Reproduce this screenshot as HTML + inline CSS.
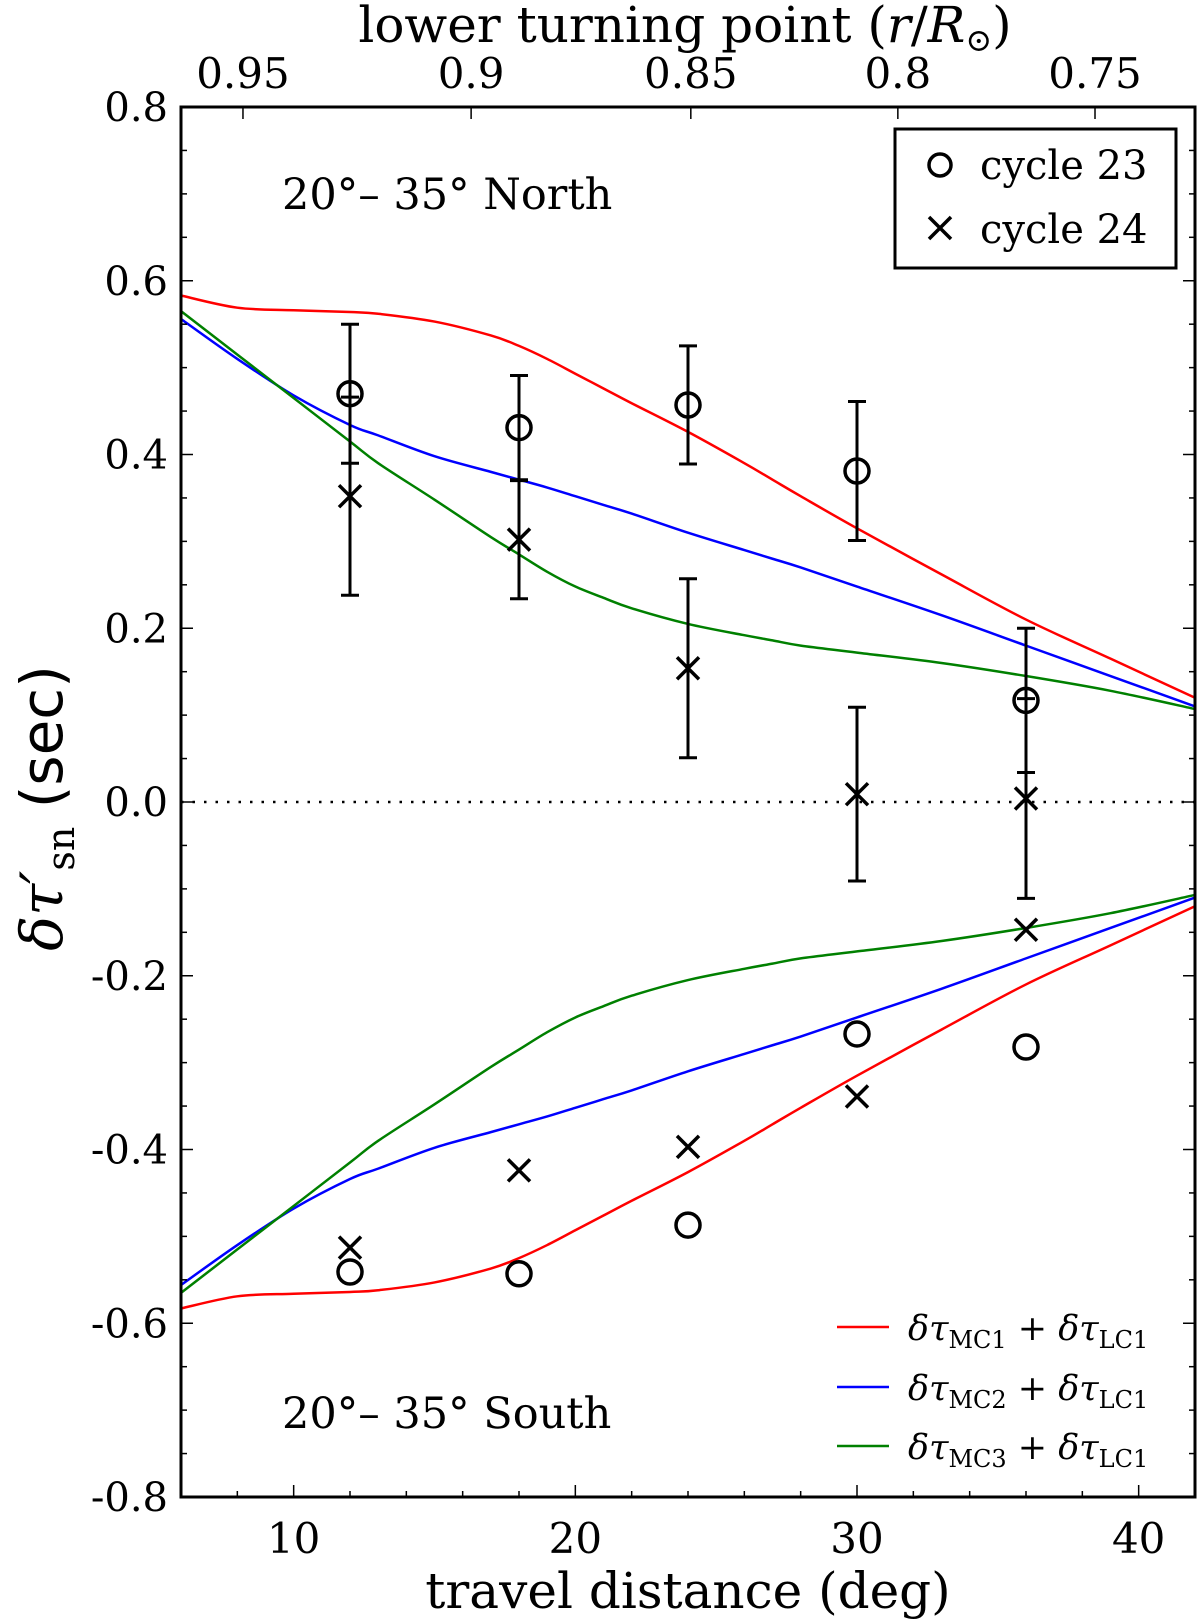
<!DOCTYPE html>
<html><head><meta charset="utf-8">
<style>
html,body{margin:0;padding:0;background:#fff;}
svg{display:block;font-family:"DejaVu Serif","Liberation Serif",serif;}
</style></head>
<body>
<svg id="chart" width="1200" height="1623" viewBox="0 0 1200 1623" xmlns="http://www.w3.org/2000/svg">
<g id="curves"></g>
<g id="axes"></g>
<g id="marks"></g>
<text x="282" y="1428" font-size="43">20°– 35° South</text>
<text x="282" y="209" font-size="43">20°– 35° North</text>
<g>
<rect x="895" y="129" width="281" height="139" fill="#fff" stroke="#000" stroke-width="3"/>
<circle cx="940" cy="165" r="11" fill="none" stroke="#000" stroke-width="3.5"/>
<text x="980" y="179" font-size="40">cycle 23</text>
<path d="M929 217 L951 239 M951 217 L929 239" stroke="#000" stroke-width="3.5"/>
<text x="980" y="243" font-size="40">cycle 24</text>
</g>
<g>
<line x1="837" y1="1327" x2="889" y2="1327" stroke="#f00" stroke-width="2.5"/>
<text x="908" y="1340" font-size="35" font-style="italic">δτ<tspan font-style="normal" font-size="24" dy="8">MC1</tspan><tspan dy="-8" font-style="normal"> + </tspan>δτ<tspan font-style="normal" font-size="24" dy="8">LC1</tspan></text>
<line x1="837" y1="1387" x2="889" y2="1387" stroke="#00f" stroke-width="2.5"/>
<text x="908" y="1400" font-size="35" font-style="italic">δτ<tspan font-style="normal" font-size="24" dy="8">MC2</tspan><tspan dy="-8" font-style="normal"> + </tspan>δτ<tspan font-style="normal" font-size="24" dy="8">LC1</tspan></text>
<line x1="837" y1="1446" x2="889" y2="1446" stroke="#008000" stroke-width="2.5"/>
<text x="908" y="1459" font-size="35" font-style="italic">δτ<tspan font-style="normal" font-size="24" dy="8">MC3</tspan><tspan dy="-8" font-style="normal"> + </tspan>δτ<tspan font-style="normal" font-size="24" dy="8">LC1</tspan></text>
</g>
<text x="685" y="42" font-size="50" text-anchor="middle">lower turning point (<tspan font-style="italic">r</tspan>/<tspan font-style="italic">R</tspan><tspan font-size="32" dy="9">⊙</tspan><tspan dy="-9">)</tspan></text>
<text x="688" y="1608" font-size="50" text-anchor="middle">travel distance (deg)</text>
<text transform="translate(62,808) rotate(-90)" font-size="58" text-anchor="middle"><tspan font-style="italic">δτ′</tspan><tspan font-size="38" dy="12">sn</tspan><tspan dy="-12" font-family="DejaVu Sans, sans-serif"> (sec)</tspan></text>
</svg>
<script>
const curveX = [6,8,10,12,13,15,17,18,19,20,21,22,24,26,27,28,30,33,36,39,42];
const mc1 = [0.583,0.569,0.566,0.564,0.562,0.553,0.537,0.525,0.51,0.493,0.476,0.459,0.426,0.39,0.371,0.352,0.315,0.262,0.21,0.165,0.12];
const mc2 = [0.556,0.51,0.468,0.434,0.422,0.398,0.38,0.371,0.362,0.352,0.342,0.332,0.31,0.29,0.28,0.27,0.248,0.215,0.18,0.145,0.11];
const mc3 = [0.565,0.515,0.465,0.415,0.39,0.348,0.305,0.285,0.265,0.248,0.235,0.223,0.205,0.192,0.186,0.18,0.172,0.16,0.145,0.128,0.107];
const obsX = [12,18,24,30,36];
const c23N = [0.470,0.431,0.457,0.381,0.117];
const c23Nerr = [0.08,0.06,0.068,0.08,0.083];
const c24N = [0.352,0.302,0.154,0.009,0.004];
const c24Nerr = [0.114,0.068,0.103,0.10,0.115];
const c23S = [-0.541,-0.543,-0.487,-0.267,-0.282];
const c24S = [-0.513,-0.424,-0.397,-0.339,-0.147];
const yTicks = [0.8,0.6,0.4,0.2,0.0,-0.2,-0.4,-0.6,-0.8];
const yTickLabels = ["0.8","0.6","0.4","0.2","0.0","-0.2","-0.4","-0.6","-0.8"];
const xTicks = [10,20,30,40];
const topTickPos = [0.95,0.9,0.85,0.8,0.75];
const topTickDeg = [8.2,16.3,24.1,31.45,38.45];

const L=181,R=1195,T=107,B=1497;
const xmin=6,xmax=42,ymin=-0.8,ymax=0.8;
const sx=v=>L+(v-xmin)/(xmax-xmin)*(R-L);
const sy=v=>B-(v-ymin)/(ymax-ymin)*(B-T);
const NS="http://www.w3.org/2000/svg";
function mk(tag,attrs,parent){const e=document.createElementNS(NS,tag);for(const k in attrs)e.setAttribute(k,attrs[k]);parent.appendChild(e);return e;}
const curves=document.getElementById('curves'),axes=document.getElementById('axes'),marks=document.getElementById('marks');

function smooth(pts){
  let d=`M${pts[0][0]},${pts[0][1]}`;
  for(let i=0;i<pts.length-1;i++){
    const p0=pts[Math.max(i-1,0)],p1=pts[i],p2=pts[i+1],p3=pts[Math.min(i+2,pts.length-1)];
    const c1x=p1[0]+(p2[0]-p0[0])/6,c1y=p1[1]+(p2[1]-p0[1])/6;
    const c2x=p2[0]-(p3[0]-p1[0])/6,c2y=p2[1]-(p3[1]-p1[1])/6;
    d+=` C${c1x},${c1y} ${c2x},${c2y} ${p2[0]},${p2[1]}`;
  }
  return d;
}
const series=[[mc1,'#f00','mc1'],[mc2,'#00f','mc2'],[mc3,'#008000','mc3']];
series.forEach(([arr,col,nm])=>{
  [1,-1].forEach(sg=>{
    const p=mk('path',{d:smooth(curveX.map((x,i)=>[sx(x),sy(sg*arr[i])])),fill:'none',stroke:col,'stroke-width':2.5},curves);
    
    
  });
});

const z=mk('line',{x1:L,x2:R,y1:sy(0),y2:sy(0),stroke:'#000','stroke-width':2.5,'stroke-dasharray':'2.5,9'},axes);


const fr=mk('rect',{x:L,y:T,width:R-L,height:B-T,fill:'none',stroke:'#000','stroke-width':3},axes);


for(let k=0;k<=32;k++){
  const v=-0.8+k*0.05, y=sy(v), maj=(k%4===0), len=maj?12:6;
  mk('line',{x1:L,x2:L+len,y1:y,y2:y,stroke:'#000','stroke-width':1.5},axes);
  mk('line',{x1:R,x2:R-len,y1:y,y2:y,stroke:'#000','stroke-width':1.5},axes);
}
yTicks.forEach((v,i)=>{
  const t=mk('text',{x:168,y:sy(v)+14,'font-size':40,'text-anchor':'end'},axes);
  t.textContent=yTickLabels[i];
  
  
});
for(let v=8;v<=42;v+=2){
  const x=sx(v),maj=(v%10===0),len=maj?12:6;
  mk('line',{x1:x,x2:x,y1:B,y2:B-len,stroke:'#000','stroke-width':1.5},axes);
}
xTicks.forEach(v=>{
  const t=mk('text',{x:sx(v),y:1553,'font-size':42,'text-anchor':'middle'},axes);
  t.textContent=String(v);
  
  
});
topTickDeg.forEach((d,i)=>{
  const x=sx(d);
  mk('line',{x1:x,x2:x,y1:T,y2:T+12,stroke:'#000','stroke-width':1.5},axes);
  const t=mk('text',{x:x,y:88,'font-size':42,'text-anchor':'middle'},axes);
  t.textContent=String(topTickPos[i]);
  
  
});

function errbar(x,v,e,nm){
  const X=sx(x),y1=sy(v+e),y2=sy(v-e);
  const g=mk('g',{stroke:'#000','stroke-width':3},marks);
  
  
  mk('line',{x1:X,x2:X,y1:y1,y2:y2},g);
  mk('line',{x1:X-9,x2:X+9,y1:y1,y2:y1},g);
  mk('line',{x1:X-9,x2:X+9,y1:y2,y2:y2},g);
}
function circ(x,v,nm){
  const c=mk('circle',{cx:sx(x),cy:sy(v),r:12,fill:'none',stroke:'#000','stroke-width':3.5},marks);
  
  
}
function cross(x,v,nm){
  const X=sx(x),Y=sy(v);
  const p=mk('path',{d:`M${X-11},${Y-11} L${X+11},${Y+11} M${X+11},${Y-11} L${X-11},${Y+11}`,stroke:'#000','stroke-width':3.5},marks);
  
  
}
obsX.forEach((x,i)=>{
  errbar(x,c23N[i],c23Nerr[i],'errorbar-cycle23-north');
  errbar(x,c24N[i],c24Nerr[i],'errorbar-cycle24-north');
  circ(x,c23N[i],'point-cycle23-north');
  cross(x,c24N[i],'point-cycle24-north');
  circ(x,c23S[i],'point-cycle23-south');
  cross(x,c24S[i],'point-cycle24-south');
});
</script>
</body></html>
